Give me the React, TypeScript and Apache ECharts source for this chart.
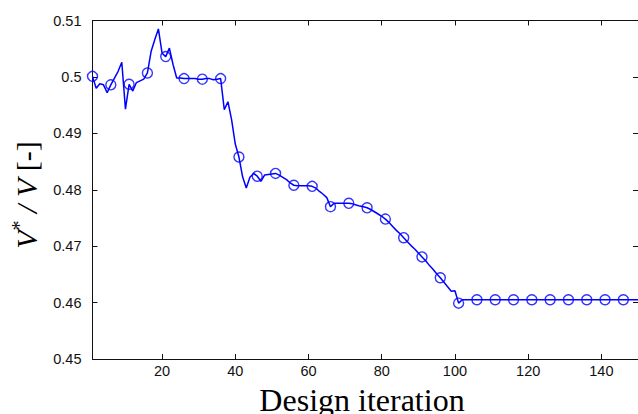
import React, { useEffect, useRef } from "react";
import * as echarts from "echarts";

// Volume fraction ratio per design iteration
const volumeRatio: number[] = [
  0.5001, 0.498, 0.4988, 0.4986, 0.4972, 0.4986, 0.4998, 0.501, 0.5026, 0.4943,
  0.4987, 0.4975, 0.499, 0.4993, 0.4996, 0.5007, 0.5045, 0.5066, 0.5085, 0.5042,
  0.5036, 0.5051, 0.5022, 0.4998, 0.4998, 0.4997, 0.4997, 0.4997, 0.4997, 0.4996,
  0.4996, 0.4997, 0.4997, 0.4995, 0.4996, 0.4997, 0.4942, 0.4956, 0.4924, 0.4881,
  0.4858, 0.4823, 0.4803, 0.4822, 0.4829, 0.4824, 0.4815, 0.4826, 0.4827, 0.4828,
  0.4829, 0.4826, 0.4822, 0.4818, 0.4812, 0.4808, 0.4807, 0.4807, 0.4807, 0.4807,
  0.4806, 0.4803, 0.4797, 0.4792, 0.4786, 0.477, 0.4776, 0.4776, 0.4776, 0.4776,
  0.4776, 0.4775, 0.4773, 0.4771, 0.477, 0.4768, 0.4765, 0.4761, 0.4757, 0.4753,
  0.4748, 0.4742, 0.4735, 0.4728, 0.4722, 0.4715, 0.4708, 0.4701, 0.4695, 0.4688,
  0.4681, 0.4674, 0.4666, 0.4659, 0.4651, 0.4644, 0.4636, 0.4628, 0.462, 0.4621,
  0.4599, 0.4605, 0.4605, 0.4605, 0.4605, 0.4605, 0.4605, 0.4605, 0.4605, 0.4605,
  0.4605, 0.4605, 0.4605, 0.4605, 0.4605, 0.4605, 0.4605, 0.4605, 0.4605, 0.4605,
  0.4605, 0.4605, 0.4605, 0.4605, 0.4605, 0.4605, 0.4605, 0.4605, 0.4605, 0.4605,
  0.4605, 0.4605, 0.4605, 0.4605, 0.4605, 0.4605, 0.4605, 0.4605, 0.4605, 0.4605,
  0.4605, 0.4605, 0.4605, 0.4605, 0.4605, 0.4605, 0.4605, 0.4605, 0.4605, 0.4605,
];

const xTicks: number[] = [20, 40, 60, 80, 100, 120, 140];
const yTicks: number[] = [0.45, 0.46, 0.47, 0.48, 0.49, 0.5, 0.51];
const markerEvery = 5;

const BLUE = "#0000ff";
const AXIS = "#111111";
const LABEL_FONT = "'Liberation Sans', Arial, sans-serif";
const TITLE_FONT = "'Liberation Serif', 'Times New Roman', serif";

export default function App() {
  const ref = useRef<HTMLDivElement>(null);

  useEffect(() => {
    if (!ref.current) return;
    const chart = echarts.init(ref.current, null, { renderer: "svg" });

    const lineData = volumeRatio.map((v, i) => [i + 1, v]);
    const markerData = lineData.filter((_, i) => i % markerEvery === 0);

    const tickStyle = {
      show: true,
      inside: true,
      length: 5,
      lineStyle: { color: AXIS, width: 1 },
    };
    const axisLine = { show: true, lineStyle: { color: AXIS, width: 1 } };

    chart.setOption({
      animation: false,
      grid: { left: 92.5, right: -3, top: 20.5, bottom: 55, containLabel: false },
      xAxis: [
        {
          type: "value",
          position: "bottom",
          min: 1,
          max: 150,
          axisLine,
          axisTick: { ...tickStyle, customValues: xTicks },
          axisLabel: {
            customValues: xTicks,
            color: "#111",
            fontFamily: LABEL_FONT,
            fontSize: 14.5,
            margin: 4,
          },
          splitLine: { show: false },
        },
        {
          type: "value",
          position: "top",
          min: 1,
          max: 150,
          axisLine,
          axisTick: { ...tickStyle, customValues: xTicks },
          axisLabel: { show: false },
          splitLine: { show: false },
        },
      ],
      yAxis: [
        {
          type: "value",
          position: "left",
          min: 0.45,
          max: 0.51,
          axisLine,
          axisTick: { ...tickStyle, customValues: yTicks },
          axisLabel: {
            customValues: yTicks,
            color: "#111",
            fontFamily: LABEL_FONT,
            fontSize: 14.5,
            margin: 11,
            formatter: (v: number) => String(parseFloat(v.toFixed(2))),
          },
          splitLine: { show: false },
        },
        {
          type: "value",
          position: "right",
          min: 0.45,
          max: 0.51,
          axisLine,
          axisTick: { ...tickStyle, customValues: yTicks },
          axisLabel: { show: false },
          splitLine: { show: false },
        },
      ],
      series: [
        {
          type: "line",
          data: lineData,
          showSymbol: false,
          symbol: "none",
          lineStyle: { color: BLUE, width: 1.5 },
          z: 2,
        },
        {
          type: "scatter",
          data: markerData,
          symbol: "circle",
          symbolSize: 10,
          itemStyle: {
            color: "rgba(0,0,0,0)",
            borderColor: BLUE,
            borderWidth: 1.4,
          },
          z: 3,
        },
      ],
      graphic: [
        {
          type: "text",
          x: 362,
          y: 400,
          style: {
            text: "Design iteration",
            fontFamily: TITLE_FONT,
            fontSize: 32,
            fill: "#000",
            align: "center",
            verticalAlign: "middle",
          },
        },
        {
          type: "text",
          x: 25,
          y: 195,
          rotation: Math.PI / 2,
          style: {
            text: "{v|V}{s|*}{v| / V}{b| [-]}",
            align: "center",
            verticalAlign: "middle",
            fill: "#000",
            rich: {
              v: {
                fontFamily: TITLE_FONT,
                fontStyle: "italic",
                fontSize: 30,
                lineHeight: 32,
                verticalAlign: "bottom",
              },
              s: {
                fontFamily: TITLE_FONT,
                fontSize: 20,
                lineHeight: 32,
                verticalAlign: "top",
              },
              b: {
                fontFamily: TITLE_FONT,
                fontSize: 30,
                lineHeight: 32,
                verticalAlign: "bottom",
              },
            },
          },
        },
      ],
    });

    return () => chart.dispose();
  }, []);

  return (
    <div
      ref={ref}
      style={{ position: "absolute", left: 0, top: 0, width: 638, height: 414, background: "#fff" }}
    />
  );
}
